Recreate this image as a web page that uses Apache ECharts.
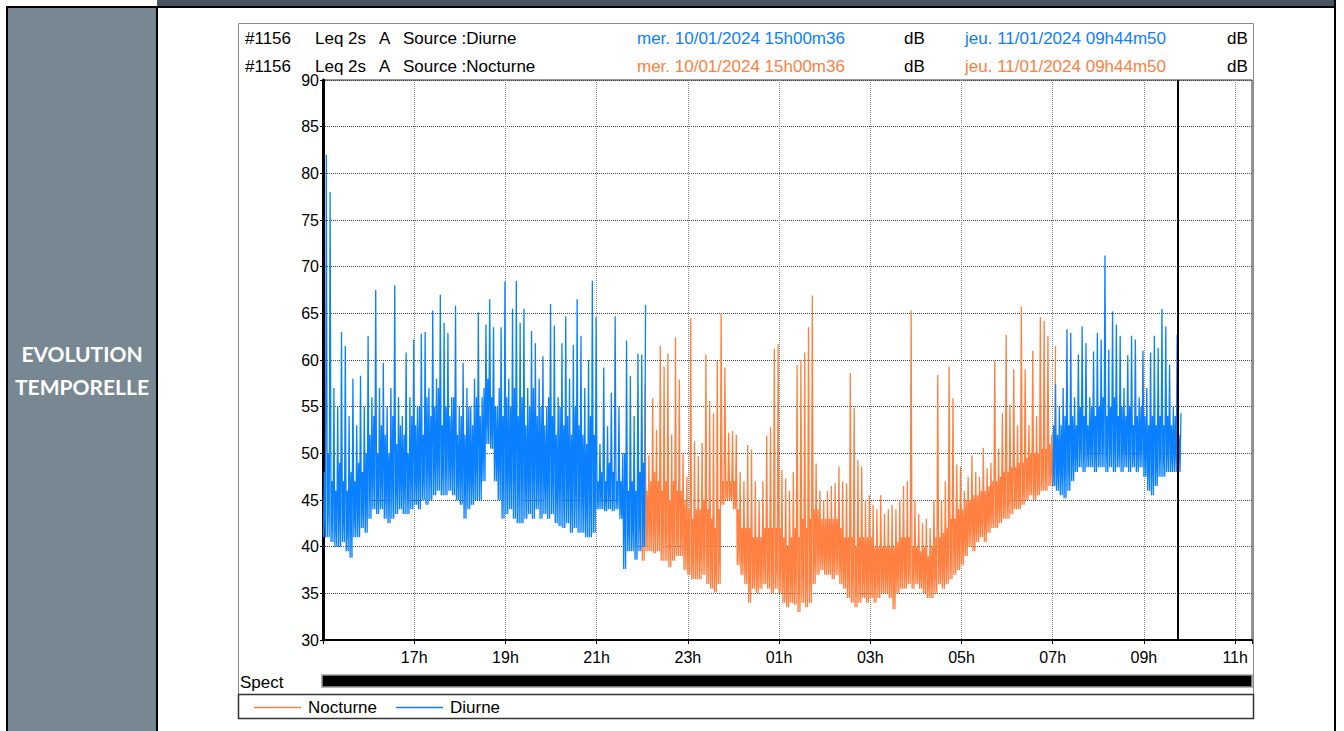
<!DOCTYPE html>
<html>
<head>
<meta charset="utf-8">
<title>Evolution temporelle</title>
<script src="https://cdn.jsdelivr.net/npm/echarts@6.0.0/dist/echarts.min.js"></script>
<style>
  html, body { margin: 0; padding: 0; background: #fff; }
  #chart { width: 1344px; height: 731px; }
</style>
</head>
<body>
<div id="chart"></div>
<script>
// Leq 2s A, one bucket = 5 min: low / dense top / peak
const diurneStart1 = 15.01;   // 15h00m36
const diurneLow1 = [41,41,40.5,40,40,40.5,39.5,38.8,41,41, 42,41.5,43,44,43.5,44,43,42.5,43,43.5,
  44,43.5,43.5,44,44.5,44,45,44.5,45,45.5, 46,45.5,45.5,46,45.5,45,44.5,43,44,44.5,
  45,45,47,51,50.5,47,45,43,43.5,44, 43,42.5,42.5,43,43.5,43,44,43,43.5,43,
  43.5,42.5,42.2,42,42.5,41.5,42,41.5,41.5,41, 41,41.5,44,44,43.8,44,43.8,44,43,37.6,
  39.5,39.5,38.6,39.5,40];
const diurneMid1 = [48,50,47,46,49,47,46,48,47,49,48,50,
  52,54,50,53,52,50,54,51,53,52,50,54,
  53,55,52,56,54,55,57,53,55,54,56,52,
  54,52,55,53,56,54,57,58,56,55,57,54,
  56,55,57,54,56,53,55,57,54,55,53,56,
  54,52,55,53,54,52,55,53,52,51,54,52,
  47,48,47,49,48,47,47,50,46,47,46,48,49];
const diurnePeak1 = [82,78,57,55,63,61.5,54,58,53,58.3, 55,62.6,56,67.5,57,59.7,55,57,68,56,
  54,60.8,56,62.2,55,62.8,63,57,65.3,58, 67,64,62.9,56,65.8,55,59.7,57,55,58,
  65.1,56,63.8,66.5,63.5,55,63.5,68.4,58,65.5, 68.5,64,65.5,57,63.1,61.8,58,60.4,55,66,
  63.7,56,61.8,64.7,58,61.6,66.5,62.6,57,60, 68.5,64.6,51,59.2,52.9,56.5,64.7,55,50,62.1,
  58.3,54,60.7,60.6,65.9];

const nocturneStart = 22.0;
const nocturneLow = [38.5,39.5,39.5,39.3,39.5,38.5,38.5,37.8,38.5,39,39,37.5,
  37,36.5,36.5,36.5,37,36,35.5,35.1,36,44.5,45,45,
  44,38,37,36,34,35.5,35,35.5,36,35.5,35,35.5,
  35,34,33.5,34,33.8,33,34,33.5,34,36,37,37.5,
  37,37,36.5,37,36,35.5,34.5,34,33.5,34,34.5,34,
  34.5,34,34.5,35,35,34.5,33.3,35,35.5,35.5,36,35.5,
  36,35.5,35,34.5,34.5,35,36,35.5,36,36.5,37,37.5,
  38,39,40,39.5,40.5,41,40.5,41.5,42,42,42.5,43,
  43,43.5,44,44,44.5,45,45.5,45,45.5,46,46,46.5,46.5];
const nocturneMid = [47,46,47,48,47,46,47,45,47,46,46,45,
  44,43,44,44,45,44,43,42,44,47,47,47,
  47,44,42,42,42,41,41,41,42,42,42,42,
  42,41,40,41,42,41,43,42,43,44,44,43,
  43,43,43,43,42,41,41,41,40,41,41,41,
  41,40,40,40,40,40,40,40.5,41,41,41,40,
  40,39.5,40,39,40,41,41,41.5,42,43,43,44,
  44,45,45,45.5,45.5,46,46,46.5,47,47,47.5,48,
  48,48.5,48.5,49,49,49.5,50,50,50,50.5,50.5,51,51];
const nocturnePeak = [57.5,49.8,55.9,52.5,61.5,59.3,60.7,52,62.4,57.9,50,47.5,
  64.5,51.3,49.7,51.1,60.6,55.6,54.3,59.9,65,59.2,52.2,52.4,
  52,48,47,50.9,50.4,47,45,47,51.9,52.8,61.2,61.7,
  48.2,47.3,46,48,59.5,60,60.8,63.5,66.9,48.9,46,45,
  46,46.5,46.8,48.6,47,46.8,58.6,54.9,49.3,48.6,45,45.5,
  44.5,44,45.5,43.5,44,44.5,44,45,46.5,47,65.3,45,
  43.5,42.5,43,42,45,58.4,45,47,59.3,55.9,48.8,48.6,
  46,47.5,49.8,48,47.5,50.6,48.4,49,59.9,50.5,54.3,62.7,
  55.2,59,53,65.7,59,53,61,54,64.6,64.2,62.6,52,61.5];

const diurneStart2 = 31.0;    // 07h00 le 11/01
const diurneLow2 = [46.5,46,45.5,45.2,46,47,48,48.5,48,48.5, 48.5,48,48.5,48.5,48,48.5,48,48.5,48,48.5,
  48,48.5,48,48.5,47.5,46,45.5,46.5,47.5,47.5, 48,48,48,48];
const diurneMid2 = [53,52,53,54,53,54,53,55,54,53, 55,54,55,56,54,55,56,54,55,54,
  55,53,54,55,54,53,54,53,54,53, 54,53,54,52];
const diurnePeak2 = [57.4,55,57,63.3,62.9,56,60.6,63.6,61.8,56, 60.9,62.9,62.2,71.2,61.1,65.2,63.8,62.6,57,60.5,
  62.6,62.2,56,61,57,60.8,62.6,61.3,65.5,63.6, 59.5,55,62.7,54.3];

const endMark = 33.747;       // 09h44m50
const yTicks = { min: 30, max: 90, step: 5 };

const BLUE = '#0a80ff';
const ORANGE = '#ff8040';
const FONT = '"Liberation Sans", Arial, sans-serif';

// axis runs in (hour - 1) so the odd hours fall on multiples of 2
function toAxis(h) { return h - 1; }

function buildSeries(start, low, mid, peak) {
  const out = [];
  for (let i = 0; i < low.length; i++) {
    const t = start + i * 5 / 60;
    out.push([toAxis(t), low[i]]);
    out.push([toAxis(t + 1.25 / 60), mid[i]]);
    out.push([toAxis(t + 2.5 / 60), low[i]]);
    out.push([toAxis(t + 3.75 / 60), peak[i]]);
  }
  return out;
}

function txt(x, y, text, color, extra) {
  return Object.assign({
    type: 'text', x: x, y: y, silent: true,
    style: { text: text, fill: color || '#000', font: '17px ' + FONT,
      verticalAlign: 'middle', textVerticalAlign: 'middle' }
  }, extra || {});
}

function panelTxt(y, text) {
  return {
    type: 'text', x: 82, y: y, silent: true,
    style: { text: text, fill: '#fff', font: 'bold 21px Lato, "DejaVu Sans", sans-serif',
      align: 'center', textAlign: 'center', verticalAlign: 'middle', textVerticalAlign: 'middle' }
  };
}

const myChart = echarts.init(document.getElementById('chart'), null, { renderer: 'svg' });

const lineBase = {
  type: 'line', symbol: 'none', showSymbol: false, sampling: false,
  animation: false, silent: true
};

const option = {
  animation: false,
  grid: { left: 323, right: 92, top: 80, bottom: 91, show: true, borderColor: '#333', borderWidth: 1 },
  legend: {
    data: ['Nocturne', 'Diurne'],
    left: 249, top: 694,
    icon: 'rect', itemWidth: 47, itemHeight: 1.5, itemGap: 19,
    selectedMode: false,
    textStyle: { fontSize: 17, color: '#000', fontFamily: FONT, padding: [0, 0, 0, 2] }
  },
  xAxis: {
    type: 'value',
    min: toAxis(15), max: toAxis(35.37), interval: 2,
    axisLine: { lineStyle: { color: '#000', width: 2 } },
    axisTick: { length: 4, lineStyle: { color: '#000' } },
    axisLabel: {
      fontSize: 16, color: '#000', fontFamily: FONT, margin: 9,
      formatter: function (v) {
        if (Math.abs(v - Math.round(v)) > 1e-6 || v <= toAxis(15)) return '';
        const h = (Math.round(v) + 1) % 24;
        return (h < 10 ? '0' : '') + h + 'h';
      }
    },
    splitLine: { show: true, lineStyle: { color: '#888', type: 'dotted', width: 1 } }
  },
  yAxis: {
    type: 'value',
    min: yTicks.min, max: yTicks.max, interval: yTicks.step,
    axisLine: { show: true, lineStyle: { color: '#000', width: 3 } },
    axisTick: { show: true, length: 3, lineStyle: { color: '#000' } },
    axisLabel: { fontSize: 16, color: '#000', fontFamily: FONT, margin: 4 },
    splitLine: { show: true, lineStyle: { color: '#444', type: 'dotted', width: 1 } }
  },
  series: [
    Object.assign({}, lineBase, {
      name: 'Nocturne',
      data: buildSeries(nocturneStart, nocturneLow, nocturneMid, nocturnePeak),
      itemStyle: { color: ORANGE },
      lineStyle: { color: ORANGE, width: 1.3 }
    }),
    Object.assign({}, lineBase, {
      name: 'Diurne',
      data: buildSeries(diurneStart1, diurneLow1, diurneMid1, diurnePeak1),
      itemStyle: { color: BLUE },
      lineStyle: { color: BLUE, width: 1.3 }
    }),
    Object.assign({}, lineBase, {
      name: 'Diurne',
      data: buildSeries(diurneStart2, diurneLow2, diurneMid2, diurnePeak2),
      itemStyle: { color: BLUE },
      lineStyle: { color: BLUE, width: 1.3 },
      markLine: {
        silent: true, symbol: 'none', animation: false,
        label: { show: false },
        lineStyle: { color: '#000', width: 2, type: 'solid' },
        data: [{ xAxis: toAxis(endMark) }]
      }
    })
  ],
  graphic: [
    // page frame
    { type: 'rect', silent: true, shape: { x: 157, y: 0, width: 1179, height: 6 }, style: { fill: '#46555f' } },
    { type: 'rect', silent: true, shape: { x: 6, y: 6, width: 1330, height: 2 }, style: { fill: '#000' } },
    { type: 'rect', silent: true, shape: { x: 8, y: 8, width: 148, height: 723 }, style: { fill: '#788893' } },
    { type: 'rect', silent: true, shape: { x: 6, y: 6, width: 2, height: 725 }, style: { fill: '#000' } },
    { type: 'rect', silent: true, shape: { x: 156, y: 6, width: 2, height: 725 }, style: { fill: '#000' } },
    { type: 'rect', silent: true, shape: { x: 1334, y: 0, width: 2, height: 731 }, style: { fill: '#000' } },
    panelTxt(353, 'EVOLUTION'),
    panelTxt(386, 'TEMPORELLE'),
    // chart box
    { type: 'rect', silent: true, shape: { x: 238.5, y: 23.5, width: 1015, height: 695 }, style: { fill: 'none', stroke: '#8a8a8a', lineWidth: 1 } },
    // header lines
    txt(245, 38, '#1156'), txt(315, 38, 'Leq 2s'), txt(379, 38, 'A'), txt(403, 38, 'Source :Diurne'),
    txt(637, 38, 'mer. 10/01/2024 15h00m36', BLUE), txt(904, 38, 'dB'),
    txt(965, 38, 'jeu. 11/01/2024 09h44m50', BLUE), txt(1227, 38, 'dB'),
    txt(245, 66, '#1156'), txt(315, 66, 'Leq 2s'), txt(379, 66, 'A'), txt(403, 66, 'Source :Nocturne'),
    txt(637, 66, 'mer. 10/01/2024 15h00m36', ORANGE), txt(904, 66, 'dB'),
    txt(965, 66, 'jeu. 11/01/2024 09h44m50', ORANGE), txt(1227, 66, 'dB'),
    // Spect bar
    txt(240, 682, 'Spect'),
    { type: 'rect', silent: true, shape: { x: 322, y: 675, width: 930, height: 12 }, style: { fill: '#000', stroke: '#999', lineWidth: 1.5 } },
    // legend frame
    { type: 'rect', silent: true, shape: { x: 238.5, y: 694.5, width: 1015, height: 24 }, style: { fill: 'none', stroke: '#333', lineWidth: 1.5 } }
  ]
};

myChart.setOption(option);
</script>
</body>
</html>
